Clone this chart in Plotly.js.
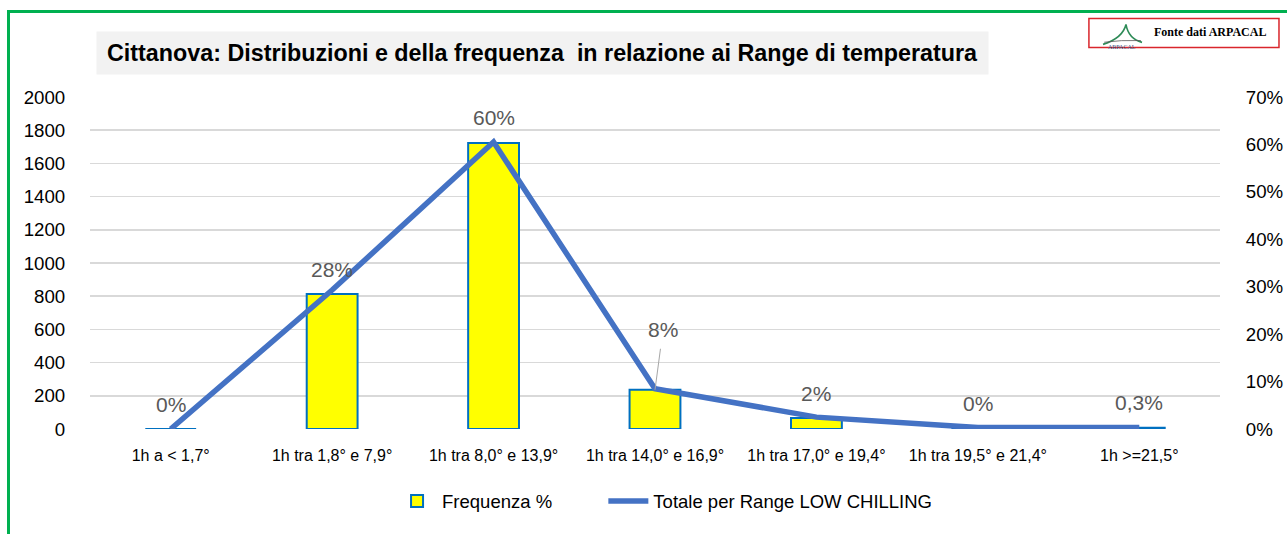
<!DOCTYPE html>
<html>
<head>
<meta charset="utf-8">
<script src="https://cdn.plot.ly/plotly-3.0.1.min.js"></script>
<style>
  html, body { margin: 0; padding: 0; background: #ffffff; }
  #wrap { position: relative; width: 1287px; height: 534px; overflow: hidden; }
  #chart { width: 1287px; height: 534px; }
  #frame { position: absolute; left: 7px; top: 10px; width: 1300px; height: 560px;
           border-top: 3px solid #00B050; border-left: 3px solid #00B050; pointer-events: none; }
</style>
</head>
<body>
<div id="wrap">
  <div id="chart"></div>
  <div id="frame"></div>
</div>
<script>
// ---- data ----
const categories = [
  "1h a < 1,7°",
  "1h tra 1,8° e 7,9°",
  "1h tra 8,0° e 13,9°",
  "1h tra 14,0° e 16,9°",
  "1h tra 17,0° e 19,4°",
  "1h tra 19,5° e 21,4°",
  "1h >=21,5°"
];
const frequenza = [0, 813, 1723, 236, 66, 1, 8];            // bars, left axis
const totale = [0, 0.293, 0.605, 0.085, 0.025, 0.003, 0.003]; // line, right axis
const pctLabels = ["0%", "28%", "60%", "8%", "2%", "0%", "0,3%"];
const leftTicks = [0, 200, 400, 600, 800, 1000, 1200, 1400, 1600, 1800, 2000];
const rightTicks = [0, 0.1, 0.2, 0.3, 0.4, 0.5, 0.6, 0.7];
const rightTickText = ["0%", "10%", "20%", "30%", "40%", "50%", "60%", "70%"];
const titleText = "Cittanova: Distribuzioni e della frequenza  in relazione ai Range di temperatura";
const sourceText = "Fonte dati ARPACAL";
const seriesNames = ["Frequenza %", "Totale per Range LOW CHILLING"];

const FONT = "Liberation Sans, Arial, sans-serif";
const NBSP = "\u00A0";

const traces = [
  {
    type: "bar",
    name: seriesNames[0] + NBSP.repeat(9),
    x: categories,
    y: frequenza,
    width: 0.315,
    marker: { color: "#FFFF00", line: { color: "#0070C0", width: 2 } },
    hoverinfo: "x+y"
  },
  {
    type: "scatter",
    mode: "lines",
    name: seriesNames[1],
    x: categories,
    y: totale,
    yaxis: "y2",
    line: { color: "#4472C4", width: 5.5 },
    hoverinfo: "x+y"
  }
];

const annotations = categories.map((c, i) => {
  const a = {
    x: c, y: frequenza[i], xref: "x", yref: "y",
    text: pctLabels[i],
    font: { family: FONT, size: 21, color: "#595959" },
    xanchor: "center", yanchor: "middle",
    showarrow: false, yshift: 25
  };
  if (i === 3) {
    a.showarrow = true;
    a.yshift = 0;
    a.ax = 8; a.ay = -60;
    a.arrowhead = 0; a.arrowwidth = 1; a.arrowcolor = "#A6A6A6";
    a.startstandoff = 6;
  }
  return a;
});

// title box
annotations.push({
  xref: "paper", yref: "paper", x: 0.4004, y: 1.1314,
  xanchor: "center", yanchor: "middle",
  text: "<b>" + titleText.replace(/  /g, " &nbsp;") + "</b>",
  showarrow: false,
  width: 891, height: 42, borderpad: 0,
  bgcolor: "#F2F2F2",
  font: { family: FONT, size: 23.3, color: "#000000" }
});
// source text
annotations.push({
  xref: "paper", yref: "paper", x: 0.991, y: 1.195,
  xanchor: "center", yanchor: "middle",
  text: "<b>" + sourceText + "</b>",
  showarrow: false,
  font: { family: "Liberation Serif, serif", size: 12, color: "#000000" }
});
annotations.push({
  xref: "paper", yref: "paper", x: 0.9133, y: 1.150,
  xanchor: "center", yanchor: "middle",
  text: "ARPACAL",
  showarrow: false,
  font: { family: "Liberation Serif, serif", size: 6, color: "#2F4F7F" }
});

const shapes = [
  { type: "rect", xref: "paper", yref: "paper",
    x0: 0.884, x1: 1.0522, y0: 1.1494, y1: 1.2366,
    line: { color: "#D9262C", width: 1.5 }, fillcolor: "#FFFFFF", layer: "above" },
  { type: "path", xref: "paper", yref: "paper",
    path: "M0.8965,1.1585 Q0.914,1.178 0.9168,1.2185 Q0.919,1.175 0.931,1.1645",
    line: { color: "#2E8B57", width: 1.6 }, layer: "above" },
  { type: "path", xref: "paper", yref: "paper",
    path: "M0.8975,1.165 Q0.912,1.172 0.930,1.170",
    line: { color: "#555555", width: 0.8 }, layer: "above" }
];

const layout = {
  width: 1287, height: 534,
  margin: { l: 90, r: 67, t: 97, b: 105, pad: 0 },
  paper_bgcolor: "#FFFFFF", plot_bgcolor: "#FFFFFF",
  font: { family: FONT, color: "#000000" },
  showlegend: true,
  legend: {
    orientation: "h", x: 0.2673, xanchor: "left", y: -0.2186, yanchor: "middle",
    font: { family: FONT, size: 18.5, color: "#000000" },
    itemwidth: 40, traceorder: "normal"
  },
  bargap: 0,
  xaxis: {
    type: "category",
    range: [-0.5, 6.5],
    showgrid: false, zeroline: false, showline: false,
    ticks: "outside", ticklen: 12, tickcolor: "rgba(0,0,0,0)",
    tickfont: { family: FONT, size: 16, color: "#000000" },
    tickangle: 0, fixedrange: true
  },
  yaxis: {
    range: [0, 2000],
    tickvals: leftTicks,
    ticktext: leftTicks.map(String),
    showgrid: true, gridcolor: "#D9D9D9", gridwidth: 1.6,
    zeroline: false, showline: false,
    ticks: "outside", ticklen: 20, tickcolor: "rgba(0,0,0,0)",
    tickfont: { family: FONT, size: 18.7, color: "#000000" },
    fixedrange: true
  },
  yaxis2: {
    range: [0, 0.7],
    overlaying: "y", side: "right",
    tickvals: rightTicks,
    ticktext: rightTickText,
    showgrid: false, zeroline: false, showline: false,
    ticks: "outside", ticklen: 21, tickcolor: "rgba(0,0,0,0)",
    tickfont: { family: FONT, size: 18.7, color: "#000000" },
    fixedrange: true
  },
  annotations: annotations,
  shapes: shapes
};

Plotly.newPlot("chart", traces, layout, { displayModeBar: false, staticPlot: true });
</script>
</body>
</html>
